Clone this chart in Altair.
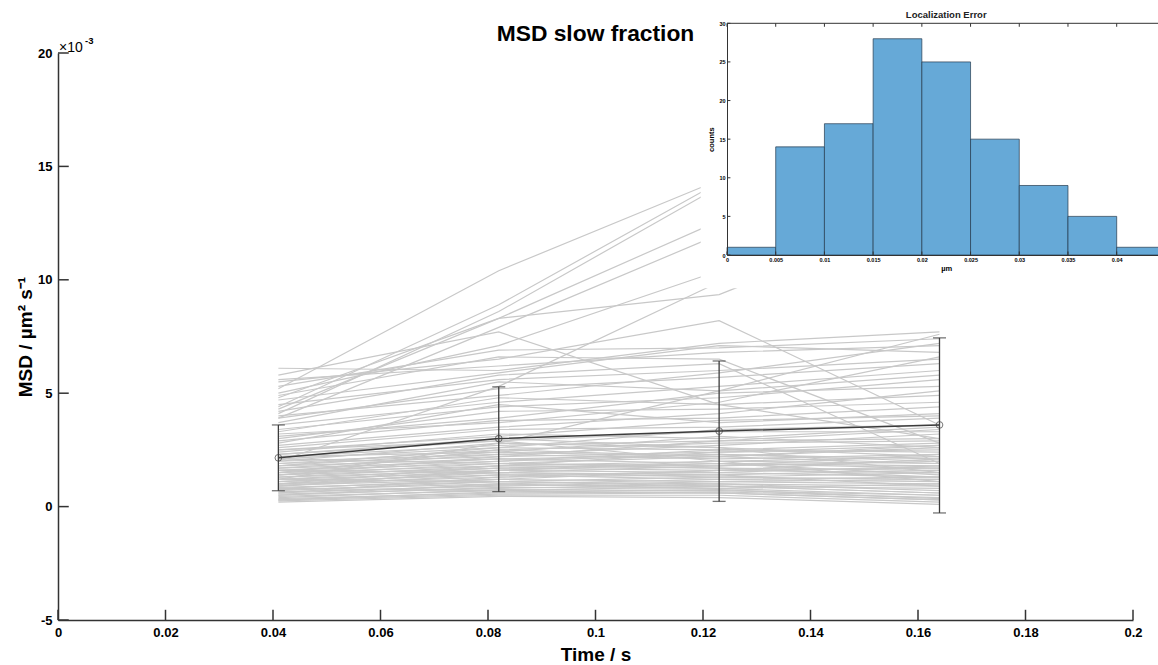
import altair as alt
import pandas as pd

# ---------------- data ----------------
times = [0.041, 0.082, 0.123, 0.164]

# individual MSD traces (x 10^-3 um^2 s^-1), one list per trajectory
traces = [
    [5.2, 10.4, 14.4, 15.0],
    [4.4, 8.9, 14.3, 15.5],
    [4.1, 8.6, 14.1, 14.6],
    [4.8, 8.3, 12.6, 13.0],
    [3.9, 7.9, 12.0, 12.8],
    [5.0, 7.1, 10.4, 11.5],
    [2.0, 5.3, 9.9, 12.0],
    [4.3, 8.3, 9.35, 13.2],
    [6.1, 6.0, 7.2, 7.7],
    [5.8, 7.7, 4.5, 3.0],
    [5.5, 6.5, 8.2, 3.6],
    [5.3, 6.9, 7.0, 7.4],
    [5.6, 6.2, 6.8, 7.1],
    [4.9, 6.6, 6.5, 2.8],
    [4.7, 5.9, 7.1, 6.8],
    [4.5, 5.6, 6.0, 6.5],
    [4.2, 5.8, 6.3, 1.9],
    [3.9, 5.2, 5.7, 6.3],
    [4.0, 4.9, 5.9, 7.2],
    [3.7, 5.5, 5.1, 5.8],
    [3.6, 4.6, 5.3, 6.0],
    [3.4, 4.4, 4.8, 5.6],
    [3.3, 4.8, 4.5, 4.9],
    [3.1, 3.9, 5.0, 5.3],
    [3.0, 4.2, 4.3, 4.6],
    [3.2, 3.7, 4.6, 6.6],
    [2.9, 3.8, 3.9, 4.4],
    [2.8, 4.5, 3.7, 4.1],
    [2.7, 3.5, 4.1, 5.1],
    [2.6, 3.4, 3.5, 3.9],
    [2.5, 3.1, 3.8, 4.0],
    [1.2, 2.8, 5.1, 7.6],
    [2.4, 3.2, 3.0, 3.5],
    [2.3, 2.9, 3.3, 3.3],
    [2.2, 2.7, 2.9, 3.0],
    [2.2, 2.4, 3.1, 2.6],
    [2.1, 2.6, 2.5, 2.8],
    [2.0, 2.3, 2.7, 3.2],
    [2.0, 2.8, 2.6, 2.2],
    [1.9, 2.2, 2.4, 2.5],
    [1.9, 2.5, 2.8, 2.9],
    [1.8, 2.1, 2.3, 2.0],
    [1.8, 2.4, 2.2, 2.7],
    [1.7, 2.0, 2.5, 2.4],
    [1.7, 2.3, 2.1, 2.3],
    [1.6, 1.9, 2.2, 2.6],
    [1.6, 2.1, 1.9, 1.8],
    [1.5, 1.8, 2.0, 2.2],
    [1.5, 2.0, 2.3, 2.1],
    [1.4, 1.7, 1.9, 1.7],
    [1.4, 1.9, 1.8, 2.0],
    [1.3, 1.6, 2.0, 1.9],
    [1.3, 1.8, 1.7, 1.6],
    [1.2, 1.5, 1.8, 2.3],
    [1.2, 1.7, 1.6, 1.5],
    [1.1, 1.4, 1.5, 1.8],
    [1.1, 1.6, 1.9, 1.4],
    [1.0, 1.3, 1.4, 1.6],
    [1.0, 1.5, 1.3, 1.2],
    [0.95, 1.2, 1.6, 1.7],
    [0.9, 1.4, 1.2, 1.1],
    [0.85, 1.1, 1.3, 1.5],
    [0.8, 1.2, 1.1, 1.0],
    [0.75, 1.0, 1.2, 1.3],
    [0.7, 1.1, 1.0, 0.9],
    [0.65, 0.9, 1.1, 1.2],
    [0.6, 0.95, 0.9, 0.8],
    [0.55, 0.8, 1.0, 0.7],
    [0.5, 0.85, 0.8, 1.0],
    [0.45, 0.7, 0.9, 0.6],
    [0.4, 0.75, 0.7, 0.5],
    [0.35, 0.6, 0.65, 0.4],
    [0.3, 0.55, 0.6, 0.3],
    [0.25, 0.5, 0.5, 0.2],
    [0.2, 0.45, 0.4, 0.1],
    [2.3, 3.0, 2.6, 1.5],
    [1.8, 2.6, 3.4, 3.6],
    [1.4, 2.2, 2.9, 3.4],
    [1.0, 1.8, 2.4, 2.7],
    [0.6, 1.3, 1.6, 2.1],
    [2.1, 1.9, 1.7, 1.3],
    [1.6, 1.5, 1.4, 0.9],
    [1.2, 1.1, 0.9, 0.6],
    [0.8, 0.7, 0.6, 0.3],
    [2.5, 2.9, 2.0, 1.1],
    [1.5, 2.5, 2.2, 1.9],
    [0.9, 1.6, 1.5, 1.3],
    [0.5, 1.0, 0.8, 0.5],
    [0.3, 0.65, 0.75, 0.35],
]

mean_msd = [2.15, 3.0, 3.33, 3.6]
err_low = [0.7, 0.66, 0.23, -0.28]
err_high = [3.6, 5.28, 6.42, 7.44]

x_ticks = [0, 0.02, 0.04, 0.06, 0.08, 0.1, 0.12, 0.14, 0.16, 0.18, 0.2]
y_ticks = [-5, 0, 5, 10, 15, 20]

# inset histogram: localization error
bin_start = [0, 0.005, 0.01, 0.015, 0.02, 0.025, 0.03, 0.035, 0.04]
bin_end = [0.005, 0.01, 0.015, 0.02, 0.025, 0.03, 0.035, 0.04, 0.045]
counts = [1, 14, 17, 28, 25, 15, 9, 5, 1]
inset_x_ticks = [0, 0.005, 0.01, 0.015, 0.02, 0.025, 0.03, 0.035, 0.04]
inset_y_ticks = [0, 5, 10, 15, 20, 25, 30]

FONT = "Liberation Sans"
AX = "#333333"
LABEL_EXPR = "replace(format(datum.value, '~g'), '\u2212', '-')"

# ---------------- tables ----------------
rows = []
for i, tr in enumerate(traces):
    for t, v in zip(times, tr):
        rows.append({"id": i, "t": t, "v": v})
df_traces = pd.DataFrame(rows)
df_mean = pd.DataFrame({"t": times, "v": mean_msd, "lo": err_low, "hi": err_high})
df_xt = pd.DataFrame({"t": x_ticks})
df_yt = pd.DataFrame({"v": y_ticks})
df_hist = pd.DataFrame({"b0": bin_start, "b1": bin_end, "c": counts})
df_ixt = pd.DataFrame({"t": inset_x_ticks})
df_iyt = pd.DataFrame({"v": inset_y_ticks})

W, H = 1075, 567


def xs():
    return alt.Scale(domain=[0, 0.2], nice=False, zero=False)


def ys():
    return alt.Scale(domain=[-5, 20], nice=False, zero=False)


x_axis = alt.Axis(
    orient="bottom", values=x_ticks, labelExpr=LABEL_EXPR, grid=False, tickSize=0, labelFlush=False,
    labelOverlap=False, labelBound=False,
    labelFont=FONT, labelFontSize=13, labelFontWeight="bold", labelColor="black",
    labelPadding=6, domainColor=AX, domainWidth=1.5,
    title="Time / s", titleFont=FONT, titleFontSize=19, titleFontWeight="bold",
    titleColor="black", titleX=W / 2, titleY=34, titleBaseline="middle",
)
y_axis = alt.Axis(
    orient="left", values=y_ticks, labelExpr=LABEL_EXPR, grid=False, tickSize=0, labelFlush=False,
    labelOverlap=False, labelBound=False,
    labelFont=FONT, labelFontSize=13, labelFontWeight="bold", labelColor="black",
    labelPadding=6, domainColor=AX, domainWidth=1.5,
    title="MSD / µm² s⁻¹", titleFont=FONT, titleFontSize=19, titleFontWeight="bold",
    titleColor="black", titleX=-33, titleY=H / 2, titleAngle=-90,
    titleBaseline="middle", titleAlign="center",
)

gray = alt.Chart(df_traces).mark_line(color="#c8c8c8", strokeWidth=1.2).encode(
    x=alt.X("t:Q", scale=xs(), axis=x_axis),
    y=alt.Y("v:Q", scale=ys(), axis=y_axis),
    detail="id:N",
)
mean_line = alt.Chart(df_mean).mark_line(color="#3c3c3c", strokeWidth=1.5).encode(
    x=alt.X("t:Q", scale=xs(), axis=None), y=alt.Y("v:Q", scale=ys(), axis=None)
)
err = alt.Chart(df_mean).mark_rule(color="#3c3c3c", strokeWidth=1.3).encode(
    x=alt.X("t:Q", scale=xs(), axis=None),
    y=alt.Y("lo:Q", scale=ys(), axis=None),
    y2="hi:Q",
)
cap_lo = alt.Chart(df_mean).mark_tick(color="#3c3c3c", orient="horizontal", size=13, thickness=1.3).encode(
    x=alt.X("t:Q", scale=xs(), axis=None), y=alt.Y("lo:Q", scale=ys(), axis=None)
)
cap_hi = alt.Chart(df_mean).mark_tick(color="#3c3c3c", orient="horizontal", size=13, thickness=1.3).encode(
    x=alt.X("t:Q", scale=xs(), axis=None), y=alt.Y("hi:Q", scale=ys(), axis=None)
)
pts = alt.Chart(df_mean).mark_point(shape="circle", filled=False, size=45, color="#3c3c3c", strokeWidth=1).encode(
    x=alt.X("t:Q", scale=xs(), axis=None), y=alt.Y("v:Q", scale=ys(), axis=None)
)
xtick_marks = alt.Chart(df_xt).transform_calculate(y0="-5", y1="-4.55").mark_rule(
    color=AX, strokeWidth=1.5
).encode(
    x=alt.X("t:Q", scale=xs(), axis=None),
    y=alt.Y("y0:Q", scale=ys(), axis=None),
    y2="y1:Q",
)
ytick_marks = alt.Chart(df_yt).transform_calculate(x0="0", x1="0.002").mark_rule(
    color=AX, strokeWidth=1.5
).encode(
    y=alt.Y("v:Q", scale=ys(), axis=None),
    x=alt.X("x0:Q", scale=xs(), axis=None),
    x2="x1:Q",
)
df_mult = pd.DataFrame({"t": [0], "v": [20]})
mult_a = alt.Chart(df_mult).mark_text(
    text="×10", align="left", baseline="middle", dx=1, dy=-5,
    font=FONT, fontSize=14, color="black"
).encode(x=alt.X("t:Q", scale=xs(), axis=None), y=alt.Y("v:Q", scale=ys(), axis=None))
mult_b = alt.Chart(df_mult).mark_text(
    text="-3", align="left", baseline="middle", dx=27, dy=-12,
    font=FONT, fontSize=9.5, fontWeight="bold", color="black"
).encode(x=alt.X("t:Q", scale=xs(), axis=None), y=alt.Y("v:Q", scale=ys(), axis=None))

df_title = pd.DataFrame({"t": [0.1], "v": [20]})
main_title = alt.Chart(df_title).mark_text(
    text="MSD slow fraction", align="center", baseline="alphabetic", dy=-12,
    font=FONT, fontSize=22.8, fontWeight="bold", color="black"
).encode(x=alt.X("t:Q", scale=xs(), axis=None), y=alt.Y("v:Q", scale=ys(), axis=None))

# ---------------- inset ----------------
IX0, IX1 = 669, 1107.4
IY0, IY1 = 202, -29.7


def xi():
    return alt.Scale(domain=[0, 0.045], range=[IX0, IX1], nice=False, zero=False)


def yi():
    return alt.Scale(domain=[0, 30], range=[IY0, IY1], nice=False, zero=False)


ix_axis = alt.Axis(
    orient="bottom", offset=-(H - IY0), values=inset_x_ticks, format="~g", zindex=2,
    grid=False, tickSize=0, labelFlush=False, labelOverlap=False, labelBound=False,
    labelFont=FONT, labelFontSize=5.5, labelFontWeight="bold", labelColor="black",
    labelPadding=2, domainColor=AX, domainWidth=1,
    title="µm", titleFont=FONT, titleFontSize=7.5, titleFontWeight="bold",
    titleColor="black", titlePadding=2,
)
iy_axis = alt.Axis(
    orient="left", offset=-IX0, values=inset_y_ticks, format="~g", zindex=2,
    grid=False, tickSize=0, labelFlush=False, labelOverlap=False, labelBound=False,
    labelFont=FONT, labelFontSize=5.5, labelFontWeight="bold", labelColor="black",
    labelPadding=2, domainColor=AX, domainWidth=1,
    title="counts", titleFont=FONT, titleFontSize=7.5, titleFontWeight="bold",
    titleColor="black", titlePadding=3,
)

df_bg = pd.DataFrame({"a": [-0.0027], "b": [0.05], "c0": [-4.3], "c1": [34]})
bg = alt.Chart(df_bg).mark_rect(color="white").encode(
    x=alt.X("a:Q", scale=xi(), axis=None), x2="b:Q",
    y=alt.Y("c0:Q", scale=yi(), axis=None), y2="c1:Q",
)
bars = alt.Chart(df_hist).transform_calculate(z="0").mark_rect(
    fill="#66a9d7", stroke="#24394d", strokeWidth=0.7
).encode(
    x=alt.X("b0:Q", scale=xi(), axis=ix_axis), x2="b1:Q",
    y=alt.Y("c:Q", scale=yi(), axis=iy_axis), y2="z:Q",
)
df_top = pd.DataFrame({"a": [0], "b": [0.045], "c": [30]})
top_border = alt.Chart(df_top).mark_rule(color=AX, strokeWidth=1).encode(
    x=alt.X("a:Q", scale=xi(), axis=None), x2="b:Q",
    y=alt.Y("c:Q", scale=yi(), axis=None),
)
ixt_bottom = alt.Chart(df_ixt).transform_calculate(c0="0", c1="0.45").mark_rule(color=AX, strokeWidth=1).encode(
    x=alt.X("t:Q", scale=xi(), axis=None), y=alt.Y("c0:Q", scale=yi(), axis=None), y2="c1:Q"
)
ixt_top = alt.Chart(df_ixt).transform_calculate(c0="30", c1="29.55").mark_rule(color=AX, strokeWidth=1).encode(
    x=alt.X("t:Q", scale=xi(), axis=None), y=alt.Y("c0:Q", scale=yi(), axis=None), y2="c1:Q"
)
iyt_left = alt.Chart(df_iyt).transform_calculate(a0="0", a1="0.00035").mark_rule(color=AX, strokeWidth=1).encode(
    y=alt.Y("v:Q", scale=yi(), axis=None), x=alt.X("a0:Q", scale=xi(), axis=None), x2="a1:Q"
)
df_it = pd.DataFrame({"a": [0.0225], "c": [30]})
inset_title = alt.Chart(df_it).mark_text(
    text="Localization Error", align="center", baseline="middle", dy=-8,
    font=FONT, fontSize=9.5, fontWeight="bold", color="#222222"
).encode(x=alt.X("a:Q", scale=xi(), axis=None), y=alt.Y("c:Q", scale=yi(), axis=None))

chart = alt.layer(
    gray, mean_line, err, cap_lo, cap_hi, pts, xtick_marks, ytick_marks, mult_a, mult_b, main_title,
    bg, bars, top_border, ixt_bottom, ixt_top, iyt_left, inset_title,
).resolve_scale(
    x="independent", y="independent"
).properties(
    width=W, height=H,
    autosize=alt.AutoSizeParams(type="none"),
    padding={"left": 58, "top": 53, "right": 25, "bottom": 45},
).configure_view(stroke=None)

chart.save("out.html", embed_options={"renderer": "svg", "actions": False})
